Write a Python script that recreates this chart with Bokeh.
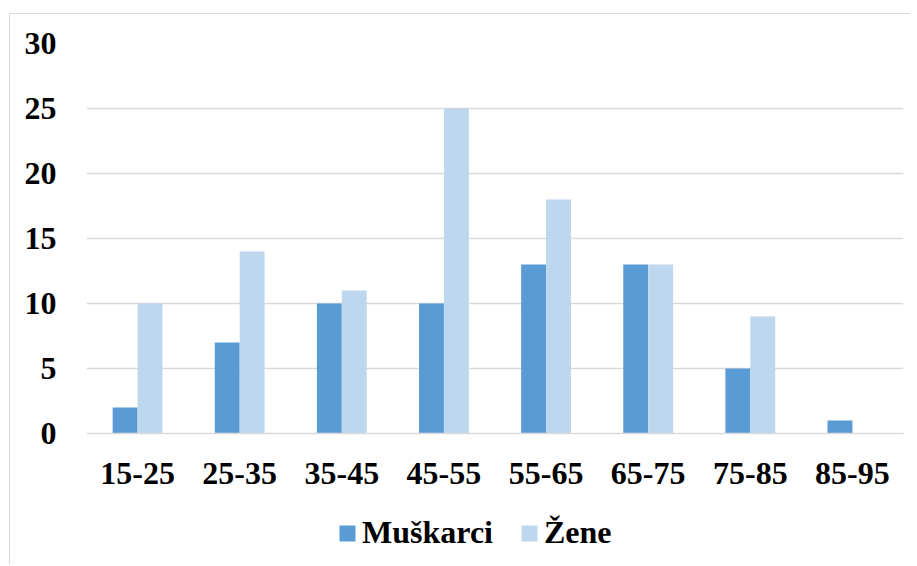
from bokeh.plotting import figure
from bokeh.layouts import column
from bokeh.models import ColumnDataSource, FixedTicker, Legend, LegendItem, Range1d
from bokeh.transform import dodge
from bokeh.embed import file_html
from bokeh.resources import INLINE

categories = ["15-25", "25-35", "35-45", "45-55", "55-65", "65-75", "75-85", "85-95"]
muskarci = [2, 7, 10, 10, 13, 13, 5, 1]
zene = [10, 14, 11, 25, 18, 13, 9, 0]
y_ticks = [0, 5, 10, 15, 20, 25, 30]
series_names = ["Muškarci", "Žene"]
series_colors = ["#5B9BD5", "#BDD7EE"]

FONT = "Liberation Serif"
FS = "32px"

src = ColumnDataSource(dict(cat=categories, m=muskarci, z=zene))

p = figure(x_range=categories, y_range=(0, 30), width=900, height=500,
           output_backend="svg", toolbar_location=None,
           min_border_left=76, min_border_right=7, min_border_top=29,
           min_border_bottom=81)
p.outline_line_color = None
p.background_fill_color = "white"
p.border_fill_color = "white"

p.vbar(x=dodge("cat", -0.122, range=p.x_range), top="m", width=0.244,
       source=src, color=series_colors[0], line_color=None)
p.vbar(x=dodge("cat", 0.122, range=p.x_range), top="z", width=0.244,
       source=src, color=series_colors[1], line_color=None)

p.xgrid.grid_line_color = None
p.ygrid.grid_line_color = "#D9D9D9"
p.ygrid.grid_line_width = 1.5
p.yaxis.ticker = FixedTicker(ticks=y_ticks)

for ax in (p.xaxis, p.yaxis):
    ax.major_tick_line_color = None
    ax.minor_tick_line_color = None
    ax.major_label_text_font = FONT
    ax.major_label_text_font_style = "bold"
    ax.major_label_text_font_size = FS
    ax.major_label_text_color = "black"
p.yaxis.axis_line_color = None
p.yaxis.major_label_standoff = 24
p.xaxis.axis_line_color = "#D9D9D9"
p.xaxis.axis_line_width = 1.5
p.xaxis.major_label_standoff = 23
p.x_range.range_padding = 0

# legend strip below the chart (legend-only renderers of zero size)
p2 = figure(width=900, height=50, output_backend="svg", toolbar_location=None,
            x_range=Range1d(0, 1), y_range=Range1d(0, 1),
            x_axis_location=None, y_axis_location=None,
            min_border_left=0, min_border_right=0, min_border_top=0,
            min_border_bottom=0)
p2.outline_line_color = None
p2.grid.grid_line_color = None
p2.background_fill_color = "white"
p2.border_fill_color = "white"
lr = [p2.vbar(x=[0], top=[0], bottom=[0], width=0, color=c, line_color=None)
      for c in series_colors]

legend = Legend(items=[LegendItem(label=n, renderers=[r]) for n, r in zip(series_names, lr)],
                orientation="horizontal", location=(251, 13),
                label_text_font=FONT, label_text_font_style="bold",
                label_text_font_size=FS, label_text_color="black",
                glyph_width=20, glyph_height=20, label_standoff=5,
                spacing=26, border_line_color=None, background_fill_alpha=0,
                padding=0, margin=0)
p2.add_layout(legend, "center")

layout = column(p, p2, spacing=0)
layout.margin = (13, 0, 0, 9)
layout.styles = {"border-top": "1px solid #D9D9D9", "border-left": "1px solid #D9D9D9"}

open("out.html", "w").write(file_html(layout, INLINE))
